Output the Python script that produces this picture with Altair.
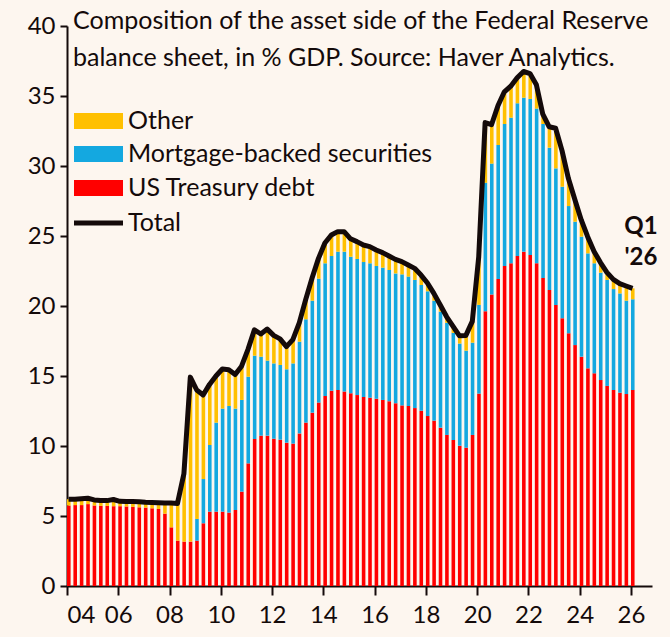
import altair as alt
import pandas as pd

# ---- data (quarterly, % of GDP), 2004Q1 .. 2026Q1 ----
start_year = 2004
n_quarters = 89

treasury = [5.75, 5.78, 5.78, 5.85, 5.75, 5.72, 5.72, 5.70, 5.70, 5.68,
            5.65, 5.62, 5.60, 5.55, 5.50, 5.17, 4.19, 3.24, 3.17, 3.17,
            3.24, 4.48, 5.31, 5.31, 5.31, 5.24, 5.43, 6.74, 8.76, 10.50,
            10.74, 10.74, 10.52, 10.45, 10.24, 10.17, 10.90, 11.67, 12.38, 13.10,
            13.57, 13.95, 14.00, 13.90, 13.76, 13.64, 13.50, 13.45, 13.38, 13.29,
            13.19, 13.05, 12.90, 12.86, 12.71, 12.52, 12.14, 11.81, 11.31, 10.79,
            10.43, 10.02, 9.88, 10.79, 13.74, 19.63, 20.83, 21.93, 22.86, 23.05,
            23.57, 23.88, 23.64, 23.05, 22.00, 21.14, 20.07, 19.12, 18.05, 17.21,
            16.38, 15.55, 15.19, 14.71, 14.29, 14.00, 13.81, 13.71, 14.00]

mbs = [0, 0, 0, 0, 0, 0, 0, 0, 0, 0,
       0, 0, 0, 0, 0, 0, 0, 0, 0, 0,
       1.55, 3.16, 4.76, 6.36, 7.36, 7.62, 7.24, 6.55, 6.19, 5.95,
       5.64, 5.36, 5.38, 5.34, 5.24, 5.73, 6.55, 7.38, 8.00, 8.85,
       9.48, 9.62, 9.88, 9.98, 9.76, 9.72, 9.64, 9.60, 9.48, 9.45,
       9.38, 9.28, 9.36, 9.24, 9.15, 8.98, 8.91, 8.57, 8.29, 8.01,
       7.65, 7.30, 6.93, 6.59, 6.34, 9.17, 9.34, 9.57, 10.14, 10.40,
       10.91, 11.00, 11.15, 11.05, 11.00, 10.17, 9.76, 9.40, 9.09, 8.81,
       8.57, 8.21, 7.86, 7.67, 7.57, 7.21, 7.09, 6.67, 6.48]

other = [0.45, 0.42, 0.45, 0.42, 0.40, 0.38, 0.38, 0.48, 0.35, 0.35,
         0.38, 0.40, 0.38, 0.42, 0.45, 0.76, 1.74, 2.66, 4.85, 11.75,
         9.21, 6.00, 4.33, 3.33, 2.83, 2.59, 2.43, 2.41, 1.95, 1.85,
         1.62, 2.25, 2.00, 1.86, 1.62, 1.70, 1.35, 1.40, 1.62, 1.45,
         1.45, 1.50, 1.43, 1.43, 1.28, 1.24, 1.22, 1.19, 1.14, 1.07,
         1.00, 1.00, 0.91, 0.83, 0.83, 0.71, 0.59, 0.52, 0.47, 0.43,
         0.47, 0.55, 1.09, 1.52, 3.42, 4.30, 2.78, 2.80, 2.30, 2.25,
         1.82, 1.87, 1.81, 1.70, 0.70, 1.49, 2.87, 2.58, 1.96, 1.58,
         1.20, 1.19, 0.85, 0.72, 0.54, 0.69, 0.70, 1.05, 0.78]

bar_series = ["Other", "Mortgage-backed securities", "US Treasury debt"]
bar_colors = ["#FFC000", "#14A8E0", "#FF0000"]
total_label = "Total"
x_tick_years = list(range(2004, 2027, 2))
y_ticks = [0, 5, 10, 15, 20, 25, 30, 35, 40]
title_lines = ["Composition of the asset side of the Federal Reserve",
               "balance sheet, in % GDP. Source: Haver Analytics."]
note_lines = ["Q1", "'26"]

# ---- tables ----
bar_w = 0.14
rows, tot_rows = [], []
for k in range(n_quarters):
    t = start_year + k / 4
    base = 0.0
    for name, arr in (("US Treasury debt", treasury), ("Mortgage-backed securities", mbs), ("Other", other)):
        v = arr[k]
        rows.append({"t": t, "t2": t + bar_w, "series": name, "y0": base, "y1": base + v})
        base += v
    tot_rows.append({"tc": t + 0.06, "total": base})
bars_df = pd.DataFrame(rows)
tot_df = pd.DataFrame(tot_rows)

ink = "#140a0a"
font = "Lato"

xscale = alt.Scale(domain=[2004, 2026.82], nice=False, zero=False)
yscale = alt.Scale(domain=[0, 40], nice=False)

xaxis = alt.Axis(values=x_tick_years, labelExpr="substring(toString(datum.value), 2, 4)",
                 grid=False, tickSize=9, tickWidth=2, domainWidth=2, domainColor=ink, tickColor=ink,
                 labelFontSize=24, labelFont=font, labelColor=ink, labelPadding=8, title=None)
yaxis = alt.Axis(values=y_ticks, grid=False, tickSize=7, tickWidth=2, domainWidth=2, domainColor=ink,
                 tickColor=ink, labelFontSize=24, labelFont=font, labelColor=ink, labelPadding=5, title=None)

bars = alt.Chart(bars_df).mark_bar(strokeWidth=0).encode(
    x=alt.X("t:Q", scale=xscale, axis=xaxis),
    x2="t2:Q",
    y=alt.Y("y0:Q", scale=yscale, axis=yaxis),
    y2="y1:Q",
    color=alt.Color("series:N", scale=alt.Scale(domain=bar_series, range=bar_colors), legend=None),
)

line = alt.Chart(tot_df).mark_line(color=ink, strokeWidth=5, strokeJoin="round").encode(
    x=alt.X("tc:Q", scale=xscale),
    y=alt.Y("total:Q", scale=yscale),
)

one = pd.DataFrame({"a": [0]})


def text_layer(txt, x, y, size=25, weight="normal", align="left"):
    return alt.Chart(one).mark_text(align=align, baseline="middle", fontSize=size, font=font,
                                    fontWeight=weight, color=ink).encode(
        x=alt.value(x), y=alt.value(y), text=alt.value(txt))


# legend (top-left inside the plot), pixel rows relative to plot origin
legend_layers = []
row_y = [95, 128, 162, 197]
for i, (lab, col) in enumerate(zip(bar_series, bar_colors)):
    legend_layers.append(
        alt.Chart(one).mark_rule(strokeWidth=16, strokeCap="butt", color=col).encode(
            x=alt.value(7), x2=alt.value(56), y=alt.value(row_y[i])))
    legend_layers.append(text_layer(lab, 61, row_y[i]))
legend_layers.append(
    alt.Chart(one).mark_rule(strokeWidth=5, strokeCap="butt", color=ink).encode(
        x=alt.value(7), x2=alt.value(56), y=alt.value(row_y[3])))
legend_layers.append(text_layer(total_label, 61, row_y[3]))

title1 = text_layer(title_lines[0], 6, -5)
title2 = text_layer(title_lines[1], 6, 32)
note1 = text_layer(note_lines[0], 574, 201, size=24, weight="bold", align="center")
note2 = text_layer(note_lines[1], 574, 232, size=24, weight="bold", align="center")

chart = alt.layer(bars, line, *legend_layers, title1, title2, note1, note2).properties(
    width=585, height=560,
    padding={"left": 67, "top": 26, "right": 18, "bottom": 51},
    autosize=alt.AutoSizeParams(type="none"),
    background="#FDF6EF",
).configure_view(stroke=None)

chart.save("out.html", embed_options={"renderer": "svg", "actions": False})
